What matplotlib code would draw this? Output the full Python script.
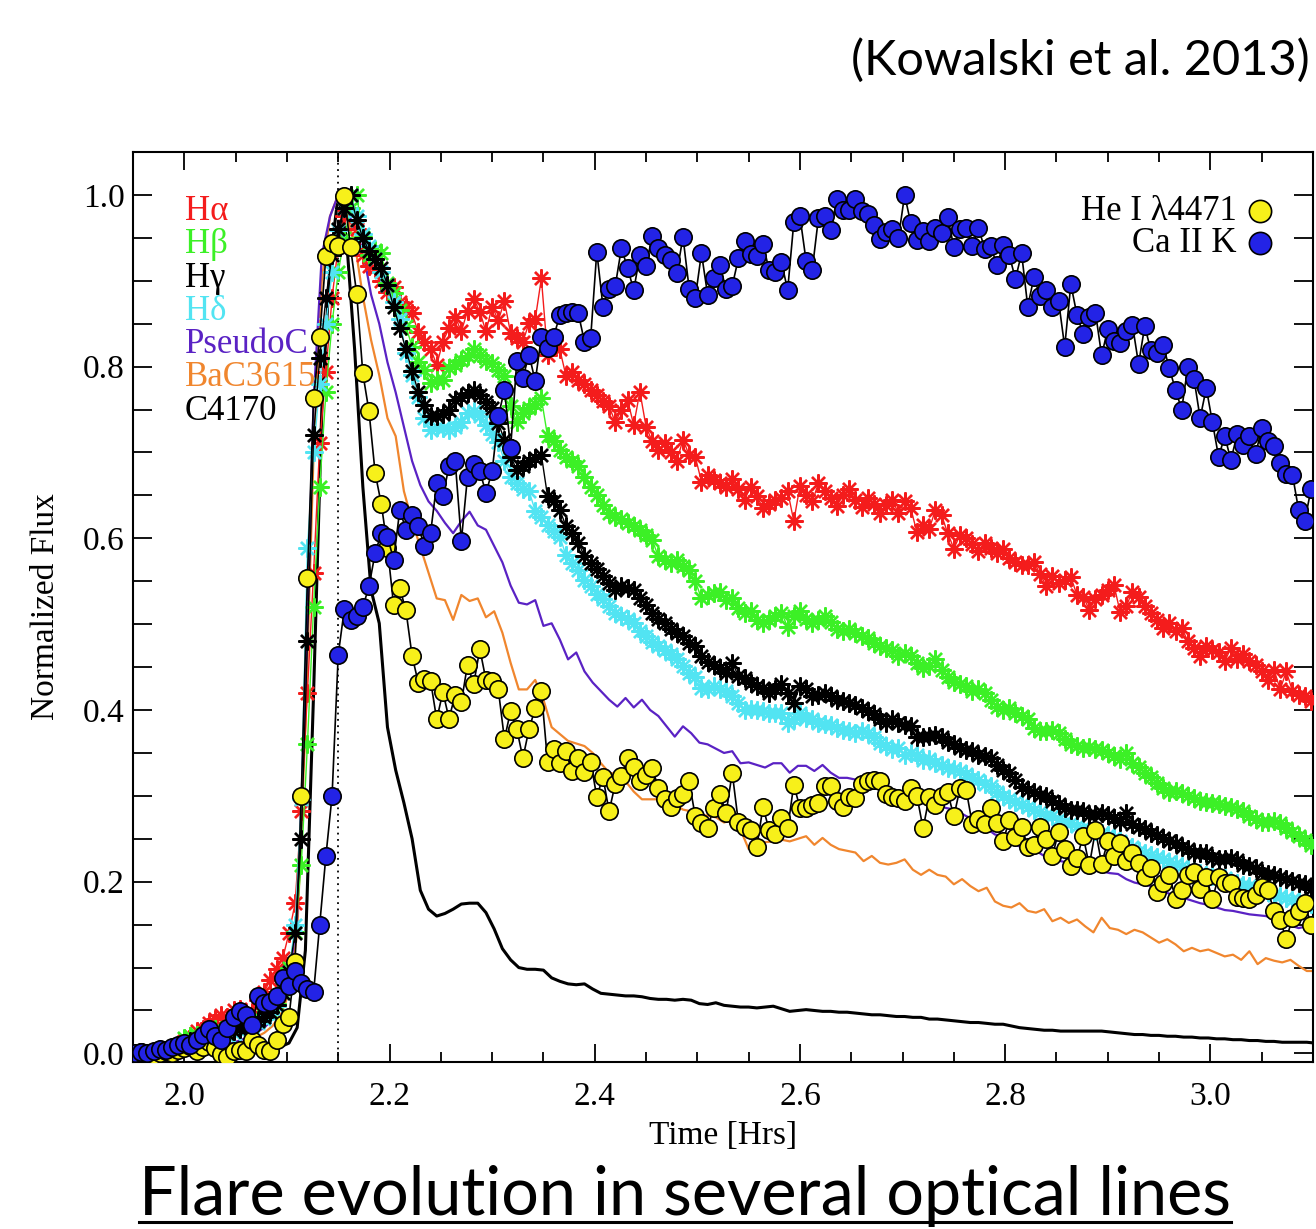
import numpy as np
import matplotlib
matplotlib.use("Agg")
import matplotlib.pyplot as plt
from matplotlib.lines import Line2D
from matplotlib.ticker import MultipleLocator

# ---------------------------------------------------------------- data
# Marker series sampled every 0.006 hr, line series every 0.008 hr
DT_MARK = 0.006
DT_LINE = 0.008

CAK_T0 = 1.952
ca_ii_k = [
    0.000, 0.002, 0.000, 0.003, 0.005, 0.004, 0.008, 0.010, 0.012, 0.010,
    0.016, 0.022, 0.028, 0.020, 0.016, 0.030, 0.042, 0.049, 0.045, 0.033,
    0.067, 0.059, 0.060, 0.067, 0.088, 0.078, 0.096, 0.082, 0.075, 0.071,
    0.150, 0.230, 0.300, 0.464, 0.518, 0.505, 0.509, 0.520, 0.544, 0.583,
    0.606, 0.602, 0.575, 0.633, 0.610, 0.627, 0.614, 0.591, 0.606, 0.664,
    0.649, 0.684, 0.690, 0.597, 0.672, 0.686, 0.678, 0.653, 0.678, 0.742,
    0.773, 0.705, 0.806, 0.787, 0.814, 0.783, 0.835, 0.822, 0.835, 0.860,
    0.862, 0.864, 0.862, 0.829, 0.833, 0.934, 0.870, 0.891, 0.894, 0.938,
    0.915, 0.889, 0.930, 0.917, 0.952, 0.938, 0.930, 0.924, 0.909, 0.951,
    0.891, 0.880, 0.932, 0.884, 0.903, 0.918, 0.890, 0.894, 0.926, 0.946,
    0.931, 0.929, 0.943, 0.912, 0.910, 0.922, 0.889, 0.968, 0.975, 0.923,
    0.913, 0.973, 0.975, 0.959, 0.995, 0.983, 0.982, 0.995, 0.981, 0.978,
    0.965, 0.949, 0.957, 0.960, 0.950, 1.000, 0.967, 0.948, 0.958, 0.946,
    0.962, 0.956, 0.974, 0.939, 0.960, 0.961, 0.940, 0.962, 0.937, 0.940,
    0.918, 0.942, 0.930, 0.902, 0.932, 0.870, 0.904, 0.882, 0.889, 0.869,
    0.877, 0.823, 0.896, 0.860, 0.838, 0.858, 0.863, 0.813, 0.844, 0.830,
    0.828, 0.842, 0.849, 0.803, 0.847, 0.819, 0.816, 0.825, 0.798, 0.773,
    0.750, 0.800, 0.786, 0.740, 0.775, 0.735, 0.695, 0.719, 0.691, 0.721,
    0.709, 0.719, 0.698, 0.728, 0.713, 0.708, 0.688, 0.675, 0.674, 0.633,
    0.620, 0.657,
]

HEI_T0 = 1.958
he_i_4471 = [
    0.002, 0.000, -0.002, 0.001, 0.003, 0.000, 0.004, 0.006, 0.009, 0.003,
    0.008, 0.013, 0.006, -0.001, -0.004, 0.003, 0.004, 0.003, 0.016, 0.010,
    0.004, 0.003, 0.016, 0.034, 0.042, 0.107, 0.300, 0.554, 0.763, 0.835,
    0.929, 0.944, 0.940, 0.999, 0.939, 0.885, 0.792, 0.748, 0.676, 0.640,
    0.589, 0.522, 0.542, 0.516, 0.463, 0.432, 0.436, 0.434, 0.389, 0.421,
    0.390, 0.418, 0.409, 0.453, 0.430, 0.471, 0.435, 0.434, 0.424, 0.366,
    0.399, 0.378, 0.344, 0.378, 0.402, 0.422, 0.340, 0.355, 0.338, 0.352,
    0.329, 0.344, 0.328, 0.340, 0.299, 0.322, 0.282, 0.314, 0.323, 0.344,
    0.334, 0.317, 0.324, 0.333, 0.309, 0.296, 0.287, 0.298, 0.302, 0.317,
    0.276, 0.268, 0.263, 0.286, 0.302, 0.280, 0.327, 0.269, 0.264, 0.260,
    0.241, 0.287, 0.260, 0.256, 0.274, 0.262, 0.313, 0.286, 0.286, 0.289,
    0.292, 0.311, 0.311, 0.294, 0.287, 0.299, 0.297, 0.314, 0.317, 0.318,
    0.317, 0.302, 0.299, 0.297, 0.294, 0.309, 0.300, 0.262, 0.299, 0.289,
    0.300, 0.304, 0.276, 0.309, 0.307, 0.267, 0.273, 0.267, 0.286, 0.268,
    0.247, 0.272, 0.252, 0.264, 0.241, 0.243, 0.264, 0.250, 0.230, 0.258,
    0.238, 0.218, 0.228, 0.253, 0.219, 0.260, 0.221, 0.247, 0.230, 0.245,
    0.224, 0.234, 0.222, 0.206, 0.216, 0.188, 0.198, 0.208, 0.180, 0.190,
    0.208, 0.211, 0.191, 0.205, 0.180, 0.206, 0.198, 0.199, 0.182, 0.181,
    0.180, 0.184, 0.194, 0.190, 0.166, 0.155, 0.133, 0.158, 0.166, 0.175,
    0.150,
]

BALMER_T0 = 2.000
h_alpha = [
    0.015, 0.020, 0.026, 0.028, 0.035, 0.040, 0.045, 0.043, 0.050, 0.052,
    0.047, 0.048, 0.062, 0.072, 0.086, 0.098, 0.111, 0.140, 0.175, 0.282,
    0.420, 0.560, 0.711, 0.794, 0.880, 0.940, 0.975, 1.000, 0.960, 0.930,
    0.917, 0.915, 0.900, 0.887, 0.893, 0.875, 0.870, 0.862, 0.840, 0.829,
    0.821, 0.802, 0.829, 0.845, 0.858, 0.841, 0.865, 0.879, 0.864, 0.841,
    0.870, 0.854, 0.876, 0.839, 0.833, 0.829, 0.851, 0.855, 0.903, 0.814,
    0.831, 0.820, 0.789, 0.794, 0.785, 0.780, 0.773, 0.767, 0.760, 0.754,
    0.735, 0.750, 0.761, 0.732, 0.771, 0.730, 0.713, 0.703, 0.711, 0.700,
    0.690, 0.715, 0.697, 0.695, 0.666, 0.674, 0.668, 0.664, 0.660, 0.669,
    0.658, 0.645, 0.660, 0.649, 0.635, 0.640, 0.645, 0.647, 0.655, 0.620,
    0.661, 0.650, 0.643, 0.664, 0.655, 0.647, 0.638, 0.651, 0.657, 0.645,
    0.637, 0.647, 0.640, 0.629, 0.639, 0.645, 0.629, 0.643, 0.635, 0.607,
    0.616, 0.611, 0.633, 0.627, 0.606, 0.588, 0.604, 0.600, 0.593, 0.585,
    0.594, 0.589, 0.583, 0.588, 0.577, 0.573, 0.569, 0.569, 0.573, 0.558,
    0.545, 0.556, 0.548, 0.552, 0.555, 0.534, 0.532, 0.517, 0.529, 0.534,
    0.540, 0.546, 0.514, 0.521, 0.538, 0.532, 0.521, 0.513, 0.505, 0.496,
    0.501, 0.492, 0.496, 0.480, 0.472, 0.463, 0.474, 0.470, 0.468, 0.457,
    0.472, 0.459, 0.465, 0.457, 0.453, 0.445, 0.435, 0.447, 0.424, 0.445,
    0.422, 0.418, 0.416, 0.410,
]

h_beta = [
    0.018, 0.020, 0.022, 0.024, 0.026, 0.028, 0.027, 0.030, 0.031, 0.033,
    0.032, 0.038, 0.042, 0.045, 0.050, 0.058, 0.075, 0.100, 0.142, 0.220,
    0.360, 0.520, 0.660, 0.770, 0.850, 0.910, 0.950, 0.985, 1.000, 0.951,
    0.930, 0.936, 0.932, 0.897, 0.886, 0.866, 0.847, 0.823, 0.805, 0.796,
    0.781, 0.785, 0.785, 0.798, 0.802, 0.808, 0.812, 0.820, 0.814, 0.806,
    0.804, 0.796, 0.789, 0.754, 0.736, 0.746, 0.752, 0.757, 0.763, 0.719,
    0.713, 0.703, 0.695, 0.690, 0.684, 0.672, 0.660, 0.650, 0.639, 0.629,
    0.625, 0.622, 0.618, 0.614, 0.610, 0.604, 0.598, 0.579, 0.575, 0.571,
    0.575, 0.568, 0.563, 0.550, 0.530, 0.534, 0.536, 0.538, 0.528, 0.530,
    0.519, 0.513, 0.515, 0.505, 0.501, 0.505, 0.509, 0.513, 0.497, 0.509,
    0.515, 0.506, 0.501, 0.505, 0.509, 0.503, 0.494, 0.492, 0.494, 0.490,
    0.486, 0.484, 0.478, 0.474, 0.472, 0.470, 0.463, 0.467, 0.463, 0.455,
    0.449, 0.451, 0.459, 0.447, 0.438, 0.433, 0.430, 0.428, 0.422, 0.424,
    0.420, 0.412, 0.404, 0.400, 0.402, 0.396, 0.393, 0.389, 0.379, 0.375,
    0.376, 0.377, 0.373, 0.366, 0.361, 0.358, 0.356, 0.357, 0.355, 0.354,
    0.350, 0.346, 0.343, 0.350, 0.338, 0.334, 0.327, 0.322, 0.315, 0.309,
    0.305, 0.306, 0.303, 0.300, 0.297, 0.294, 0.293, 0.292, 0.290, 0.288,
    0.287, 0.285, 0.282, 0.277, 0.273, 0.270, 0.269, 0.271, 0.268, 0.263,
    0.258, 0.253, 0.249, 0.243,
]

h_gamma = [
    0.012, 0.014, 0.015, 0.017, 0.018, 0.020, 0.022, 0.024, 0.026, 0.028,
    0.030, 0.034, 0.038, 0.042, 0.048, 0.056, 0.070, 0.095, 0.140, 0.250,
    0.480, 0.720, 0.810, 0.880, 0.930, 0.960, 0.985, 1.000, 0.971, 0.950,
    0.935, 0.925, 0.915, 0.895, 0.870, 0.845, 0.820, 0.795, 0.771, 0.755,
    0.742, 0.742, 0.745, 0.750, 0.761, 0.765, 0.769, 0.773, 0.767, 0.759,
    0.752, 0.734, 0.715, 0.695, 0.680, 0.684, 0.690, 0.693, 0.697, 0.649,
    0.643, 0.633, 0.614, 0.606, 0.595, 0.579, 0.571, 0.564, 0.556, 0.548,
    0.540, 0.544, 0.542, 0.540, 0.530, 0.522, 0.513, 0.506, 0.501, 0.494,
    0.490, 0.486, 0.478, 0.474, 0.463, 0.456, 0.453, 0.449, 0.443, 0.455,
    0.440, 0.437, 0.432, 0.428, 0.426, 0.420, 0.425, 0.430, 0.420, 0.408,
    0.428, 0.424, 0.416, 0.418, 0.420, 0.416, 0.412, 0.410, 0.408, 0.406,
    0.402, 0.399, 0.395, 0.389, 0.385, 0.389, 0.385, 0.383, 0.381, 0.368,
    0.369, 0.370, 0.371, 0.368, 0.363, 0.360, 0.356, 0.354, 0.352, 0.348,
    0.346, 0.344, 0.336, 0.330, 0.327, 0.319, 0.310, 0.307, 0.304, 0.301,
    0.300, 0.294, 0.290, 0.286, 0.284, 0.283, 0.282, 0.278, 0.279, 0.280,
    0.278, 0.274, 0.270, 0.280, 0.267, 0.264, 0.261, 0.257, 0.255, 0.251,
    0.248, 0.245, 0.241, 0.238, 0.234, 0.234, 0.234, 0.228, 0.227, 0.226,
    0.228, 0.225, 0.220, 0.218, 0.216, 0.210, 0.209, 0.208, 0.205, 0.203,
    0.201, 0.199, 0.197, 0.191,
]

h_delta = [
    0.010, 0.012, 0.013, 0.015, 0.016, 0.018, 0.020, 0.022, 0.024, 0.026,
    0.028, 0.031, 0.035, 0.040, 0.046, 0.055, 0.070, 0.095, 0.150, 0.296,
    0.589, 0.700, 0.780, 0.850, 0.910, 0.959, 0.985, 1.000, 0.975, 0.955,
    0.940, 0.925, 0.910, 0.895, 0.875, 0.855, 0.816, 0.790, 0.765, 0.740,
    0.726, 0.730, 0.728, 0.726, 0.730, 0.736, 0.746, 0.748, 0.742, 0.732,
    0.722, 0.712, 0.690, 0.672, 0.664, 0.658, 0.655, 0.632, 0.625, 0.615,
    0.608, 0.602, 0.580, 0.571, 0.563, 0.552, 0.544, 0.535, 0.529, 0.521,
    0.513, 0.510, 0.506, 0.501, 0.492, 0.486, 0.479, 0.474, 0.470, 0.465,
    0.460, 0.451, 0.443, 0.438, 0.426, 0.424, 0.428, 0.425, 0.422, 0.416,
    0.408, 0.400, 0.401, 0.400, 0.399, 0.397, 0.397, 0.396, 0.385, 0.389,
    0.397, 0.391, 0.389, 0.385, 0.384, 0.383, 0.379, 0.377, 0.375, 0.373,
    0.375, 0.373, 0.368, 0.362, 0.358, 0.355, 0.356, 0.348, 0.350, 0.348,
    0.342, 0.343, 0.338, 0.336, 0.333, 0.331, 0.329, 0.325, 0.321, 0.318,
    0.314, 0.311, 0.305, 0.300, 0.296, 0.293, 0.290, 0.287, 0.284, 0.281,
    0.278, 0.276, 0.273, 0.270, 0.268, 0.265, 0.263, 0.261, 0.259, 0.257,
    0.254, 0.251, 0.247, 0.243, 0.240, 0.236, 0.234, 0.231, 0.229, 0.226,
    0.223, 0.221, 0.218, 0.215, 0.212, 0.210, 0.208, 0.207, 0.205, 0.204,
    0.200, 0.198, 0.196, 0.195, 0.193, 0.191, 0.188, 0.185, 0.183, 0.181,
    0.179, 0.177, 0.175, 0.174,
]

CONT_T0 = 1.950
pseudo_c = [
    0.000, 0.000, 0.001, 0.001, 0.002, 0.002, 0.003, 0.004, 0.005, 0.006,
    0.008, 0.010, 0.012, 0.015, 0.019, 0.024, 0.030, 0.040, 0.055, 0.085,
    0.160, 0.420, 0.760, 0.930, 0.975, 1.000, 0.985, 0.960, 0.936, 0.884,
    0.850, 0.805, 0.770, 0.730, 0.690, 0.662, 0.643, 0.632, 0.618, 0.606,
    0.620, 0.631, 0.615, 0.610, 0.591, 0.572, 0.545, 0.525, 0.523, 0.528,
    0.498, 0.501, 0.482, 0.459, 0.467, 0.445, 0.432, 0.422, 0.412, 0.404,
    0.414, 0.403, 0.412, 0.400, 0.393, 0.381, 0.369, 0.381, 0.373, 0.362,
    0.360, 0.355, 0.350, 0.352, 0.338, 0.339, 0.336, 0.333, 0.338, 0.338,
    0.327, 0.335, 0.335, 0.329, 0.336, 0.327, 0.321, 0.321, 0.319, 0.315,
    0.312, 0.310, 0.305, 0.302, 0.298, 0.296, 0.292, 0.293, 0.290, 0.286,
    0.284, 0.279, 0.274, 0.269, 0.262, 0.255, 0.253, 0.246, 0.241, 0.238,
    0.236, 0.230, 0.226, 0.224, 0.222, 0.218, 0.216, 0.214, 0.212, 0.210,
    0.209, 0.203, 0.199, 0.197, 0.195, 0.190, 0.187, 0.183, 0.181, 0.178,
    0.175, 0.173, 0.170, 0.167, 0.166, 0.164, 0.162, 0.161, 0.160, 0.157,
    0.154, 0.149, 0.146, 0.148, 0.146,
]

ba_c3615 = [
    0.000, 0.000, 0.001, 0.001, 0.002, 0.002, 0.003, 0.003, 0.004, 0.005,
    0.006, 0.008, 0.010, 0.012, 0.015, 0.019, 0.024, 0.032, 0.045, 0.070,
    0.140, 0.380, 0.700, 0.900, 0.975, 1.000, 0.975, 0.945, 0.882, 0.831,
    0.790, 0.740, 0.719, 0.655, 0.620, 0.590, 0.560, 0.530, 0.528, 0.505,
    0.534, 0.527, 0.530, 0.508, 0.515, 0.490, 0.455, 0.424, 0.424, 0.435,
    0.412, 0.380, 0.372, 0.364, 0.361, 0.358, 0.350, 0.338, 0.327, 0.325,
    0.317, 0.305, 0.296, 0.296, 0.296, 0.290, 0.290, 0.284, 0.282, 0.278,
    0.277, 0.275, 0.269, 0.272, 0.261, 0.238, 0.245, 0.246, 0.247, 0.249,
    0.247, 0.250, 0.253, 0.243, 0.251, 0.243, 0.238, 0.236, 0.234, 0.224,
    0.230, 0.222, 0.220, 0.222, 0.226, 0.214, 0.208, 0.214, 0.208, 0.206,
    0.197, 0.203, 0.195, 0.189, 0.193, 0.177, 0.172, 0.170, 0.175, 0.166,
    0.164, 0.168, 0.154, 0.158, 0.152, 0.156, 0.148, 0.141, 0.158, 0.146,
    0.144, 0.139, 0.144, 0.141, 0.135, 0.129, 0.133, 0.127, 0.119, 0.123,
    0.119, 0.121, 0.117, 0.113, 0.115, 0.109, 0.119, 0.104, 0.111, 0.108,
    0.106, 0.109, 0.102, 0.096, 0.096,
]

c4170 = [
    0.000, 0.000, 0.000, 0.001, 0.001, 0.001, 0.001, 0.002, 0.002, 0.002,
    0.002, 0.003, 0.003, 0.003, 0.004, 0.004, 0.005, 0.006, 0.008, 0.012,
    0.030, 0.120, 0.420, 0.750, 0.920, 1.000, 0.950, 0.820, 0.660, 0.540,
    0.501, 0.380, 0.330, 0.292, 0.250, 0.190, 0.168, 0.160, 0.163, 0.168,
    0.174, 0.175, 0.175, 0.164, 0.145, 0.122, 0.109, 0.100, 0.098, 0.098,
    0.097, 0.088, 0.084, 0.081, 0.080, 0.081, 0.075, 0.070, 0.069, 0.068,
    0.067, 0.067, 0.066, 0.064, 0.063, 0.063, 0.062, 0.063, 0.062, 0.058,
    0.057, 0.059, 0.056, 0.055, 0.054, 0.054, 0.053, 0.054, 0.055, 0.052,
    0.049, 0.050, 0.051, 0.050, 0.049, 0.049, 0.048, 0.048, 0.047, 0.046,
    0.045, 0.045, 0.044, 0.043, 0.043, 0.042, 0.042, 0.040, 0.040, 0.039,
    0.038, 0.037, 0.036, 0.036, 0.035, 0.034, 0.034, 0.032, 0.030, 0.029,
    0.028, 0.027, 0.027, 0.026, 0.026, 0.026, 0.026, 0.026, 0.026, 0.025,
    0.024, 0.023, 0.022, 0.022, 0.021, 0.021, 0.020, 0.020, 0.019, 0.019,
    0.018, 0.018, 0.017, 0.017, 0.016, 0.016, 0.015, 0.015, 0.014, 0.014,
    0.013, 0.013, 0.013, 0.013, 0.012,
]

PEAK_TIME = 2.15

left_labels = ["H\u03b1", "H\u03b2", "H\u03b3", "H\u03b4", "PseudoC", "BaC3615", "C4170"]
right_labels = ["He I \u03bb4471", "Ca II K"]

x_ticks = [2.0, 2.2, 2.4, 2.6, 2.8, 3.0]
y_ticks = [0.0, 0.2, 0.4, 0.6, 0.8, 1.0]

# ---------------------------------------------------------------- style
RED = "#f41c1c"
GREEN = "#3cf026"
CYAN = "#52e4f2"
PURPLE = "#5a22c4"
ORANGE = "#f0862e"
YELLOW = "#f7f01a"
BLUE = "#2323e6"

SERIF = ["Liberation Serif", "DejaVu Serif"]
SANS = ["Lato", "DejaVu Sans"]
plt.rcParams["font.family"] = SERIF

W, H = 1316, 1229
fig = plt.figure(figsize=(W / 100, H / 100), dpi=100)
fig.patch.set_facecolor("white")
ax = fig.add_axes([133 / W, 1 - 1062 / H, (1313 - 133) / W, (1062 - 152) / H])


def times(t0, dt, vals):
    return t0 + dt * np.arange(len(vals))


# continuum light curves (plain lines)
ax.plot(times(CONT_T0, DT_LINE, c4170), c4170, color="black", lw=2.2, zorder=2)
ax.plot(times(CONT_T0, DT_LINE, ba_c3615), ba_c3615, color=ORANGE, lw=1.6, zorder=2)
ax.plot(times(CONT_T0, DT_LINE, pseudo_c), pseudo_c, color=PURPLE, lw=1.6, zorder=2)

# Balmer lines (asterisks joined by thin lines)
star = (8, 2, 0)
for vals, col in [(h_alpha, RED), (h_beta, GREEN), (h_delta, CYAN), (h_gamma, "black")]:
    ax.plot(times(BALMER_T0, DT_MARK, vals), vals, color=col, lw=1.0,
            marker=star, ms=13, mew=1.7, mec=col, zorder=3)

# He I and Ca II K (circles joined by black lines)
ax.plot(times(HEI_T0, DT_MARK, he_i_4471), he_i_4471, color="black", lw=1.2,
        marker="o", ms=12.5, mfc=YELLOW, mec="black", mew=1.2, zorder=4)
ax.plot(times(CAK_T0, DT_MARK, ca_ii_k), ca_ii_k, color="black", lw=1.2,
        marker="o", ms=12.5, mfc=BLUE, mec="black", mew=1.2, zorder=5)

ax.axvline(PEAK_TIME, color="black", lw=1.3, ls=(0, (1, 2.5)), zorder=1)

ax.set_xlim(1.95, 3.10)
ax.set_ylim(-0.01, 1.05)
ax.set_xticks(x_ticks)
ax.set_xticklabels([f"{v:.1f}" for v in x_ticks])
ax.set_yticks(y_ticks)
ax.set_yticklabels([f"{v:.1f}" for v in y_ticks])
ax.xaxis.set_minor_locator(MultipleLocator(0.05))
ax.yaxis.set_minor_locator(MultipleLocator(0.05))
ax.tick_params(axis="both", which="both", direction="in", top=True, right=True,
               labelsize=24, width=1.3, colors="black")
ax.tick_params(axis="x", which="major", length=13, pad=14)
ax.tick_params(axis="x", which="minor", length=7, pad=14)
ax.tick_params(axis="y", which="both", length=14, pad=6)
for s in ax.spines.values():
    s.set_linewidth(1.5)

ax.set_xlabel("Time [Hrs]", fontsize=24, labelpad=6)
ax.set_ylabel("Normalized Flux", fontsize=24, labelpad=16)

# left-hand key
left_colors = [RED, GREEN, "black", CYAN, PURPLE, ORANGE, "black"]
for i, (lab, col) in enumerate(zip(left_labels, left_colors)):
    fig.text(185 / W, 1 - (220 + 33.3 * i) / H, lab, color=col, fontsize=25,
             ha="left", va="baseline", zorder=6)

# right-hand key
for i, (lab, col) in enumerate(zip(right_labels, [YELLOW, BLUE])):
    base = 220 + 32 * i
    fig.text(1237 / W, 1 - base / H, lab, color="black", fontsize=25,
             ha="right", va="baseline")
    fig.add_artist(Line2D([1260 / W], [1 - (base - 9) / H], marker="o", ms=16,
                          mfc=col, mec="black", mew=1.2, transform=fig.transFigure,
                          ls="none"))

# citation and caption
cite = fig.text(1310 / W, 1 - 60 / H, "(Kowalski et al. 2013)", family=SANS,
                fontsize=30, ha="right", va="center")
title = fig.text(685 / W, 1 - 1196 / H, "Flare evolution in several optical lines",
                 family=SANS, fontsize=44, ha="center", va="center")

fig.canvas.draw()
renderer = fig.canvas.get_renderer()
for txt, target in [(cite, 458), (title, 1094)]:
    w = txt.get_window_extent(renderer).width
    txt.set_fontsize(txt.get_fontsize() * target / w)
fig.canvas.draw()
bb = title.get_window_extent(renderer)
fig.add_artist(Line2D([bb.x0 / W, bb.x1 / W], [1 - 1222 / H] * 2, color="black",
                      lw=2.2, transform=fig.transFigure))

fig.savefig("out.png", dpi=100, facecolor="white")
